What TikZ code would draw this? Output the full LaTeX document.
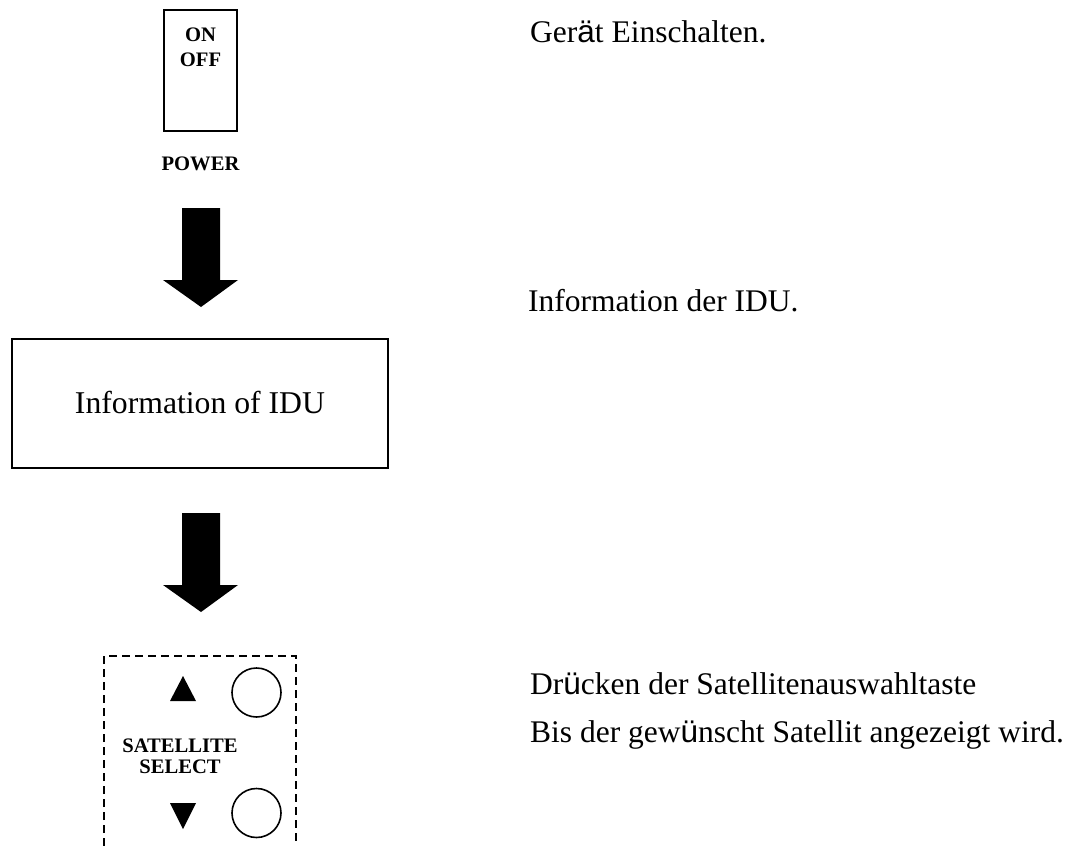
\documentclass[tikz,border=0pt]{standalone}
\usepackage{fontspec}
\setmainfont{Liberation Serif}
\newfontfamily\sansf{Liberation Sans}
\begin{document}
\begin{tikzpicture}[x=1pt,y=-1pt,
  bigtxt/.style={font=\fontsize{31.5}{36}\selectfont, inner sep=0pt, anchor=base west},
  smallbold/.style={font=\fontsize{20.6}{22}\selectfont\bfseries, inner sep=0pt, anchor=base},
  frame/.style={draw=black, line width=2pt},
  blockarrow/.style={fill=black, draw=none}]
\useasboundingbox (0,0) rectangle (1072,846);
% power switch
\node[frame, minimum width=73pt, minimum height=121pt, inner sep=0pt] (power) at (200.5,70.5) {};
\node[smallbold] (on) at (200.5,41) {ON};
\node[smallbold] (off) at (200.5,66) {OFF};
\node[smallbold] (powerlbl) at (200.5,170) {POWER};
% arrow 1
\coordinate (a1) at (201,208);
\fill[blockarrow] (a1) ++(-19,0) -- ++(38,0) -- ++(0,72) -- ++(18,0) -- ++(-37,27) -- ++(-38,-27) -- ++(19,0) -- cycle;
% IDU box
\node[draw=black, line width=2.5pt, minimum width=376pt, minimum height=129pt, inner sep=0pt] (idu) at (200,403.5) {};
\node[font=\fontsize{31.7}{36}\selectfont, inner sep=0pt, anchor=base] (idutxt) at (200,413) {Information of IDU};
% arrow 2
\coordinate (a2) at (201,513);
\fill[blockarrow] (a2) ++(-19,0) -- ++(38,0) -- ++(0,72) -- ++(18,0) -- ++(-37,27) -- ++(-38,-27) -- ++(19,0) -- cycle;
% satellite select panel
\coordinate (pbl) at (104,846);
\coordinate (ptl) at (104,656);
\coordinate (ptr) at (296,656);
\coordinate (pbr) at (296,846);
\draw[line width=2pt, dash pattern=on 8pt off 5pt] (pbl) -- (ptl) -- (ptr) -- (pbr);
\fill (170,701) -- (196,701) -- (183,676) -- cycle;
\fill (170,803) -- (196,803) -- (183,829) -- cycle;
\node[draw=black, line width=1.6pt, circle, minimum size=49pt, inner sep=0pt] (btnup) at (256.5,692.5) {};
\node[draw=black, line width=1.6pt, circle, minimum size=49pt, inner sep=0pt] (btndn) at (256.5,813) {};
\node[smallbold] (sat) at (180,752) {SATELLITE};
\node[smallbold] (sel) at (180,773) {SELECT};
% right texts
\node[bigtxt] (t1) at (530,42) {Ger{\sansf ä}t Einschalten.};
\node[bigtxt] (t2) at (528,311) {Information der IDU.};
\node[bigtxt] (t3) at (530,694) {Dr{\sansf ü}cken der Satellitenauswahltaste};
\node[bigtxt] (t4) at (530,742) {Bis der gew{\sansf ü}nscht Satellit angezeigt wird.};
\end{tikzpicture}
\end{document}
